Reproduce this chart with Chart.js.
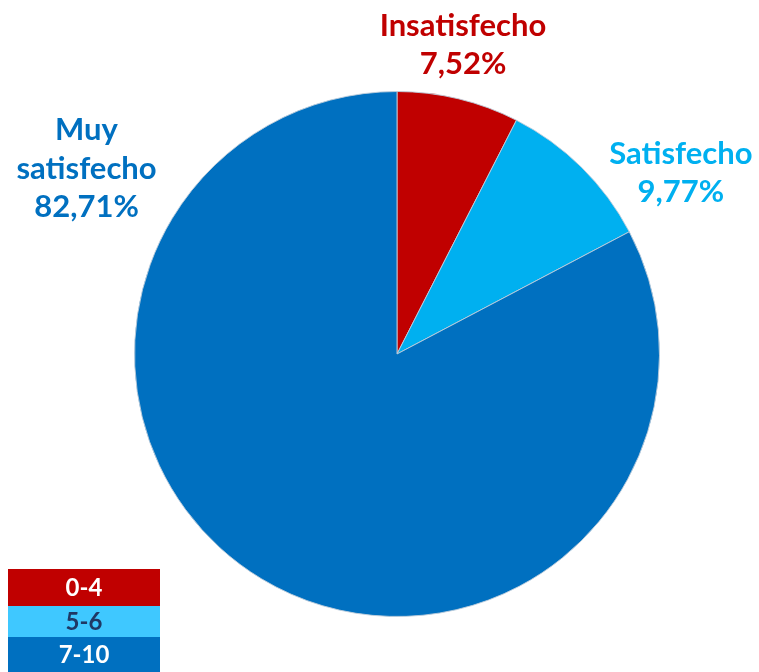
<!DOCTYPE html>
<html>
<head>
<meta charset="utf-8">
<script src="https://cdn.jsdelivr.net/npm/chart.js@4/dist/chart.umd.min.js"></script>
<style>
html,body{margin:0;padding:0;background:#fff;}
#wrap{width:759px;height:672px;position:relative;}
</style>
</head>
<body>
<div id="wrap"><canvas id="c" width="759" height="672"></canvas></div>
<script>
const categories = ["Insatisfecho", "Satisfecho", "Muy satisfecho"];
const values = [7.52, 9.77, 82.71];
const legendLabels = ["0-4", "5-6", "7-10"];
const sliceColors = ["#C00000", "#00B0F0", "#0070C0"];
const legendColors = ["#C00000", "#3FC8FF", "#0070C0"];
const legendTextColors = ["#FFFFFF", "#1F3864", "#FFFFFF"];

function fmt(v){ return v.toFixed(2).replace('.', ',') + '%'; }

function shade(hex, amt){
  const n = parseInt(hex.slice(1),16);
  let r=(n>>16)&255,g=(n>>8)&255,b=n&255;
  const f = c => Math.max(0,Math.min(255,Math.round(amt>0? c+(255-c)*amt : c*(1+amt))));
  return `rgb(${f(r)},${f(g)},${f(b)})`;
}

function bevelFill(ctx){
  const chart = ctx.chart;
  const base = sliceColors[ctx.dataIndex];
  const meta = chart.getDatasetMeta(0);
  const el = meta.data[ctx.dataIndex];
  if(!el || !el.outerRadius) return base;
  const {x,y,outerRadius:r} = el;
  const g = chart.ctx.createRadialGradient(x,y,0,x,y,r);
  g.addColorStop(0, base);
  g.addColorStop(0.9, base);
  g.addColorStop(0.95, shade(base,0.18));
  g.addColorStop(0.975, base);
  g.addColorStop(1, shade(base,-0.25));
  return g;
}

// Label placements (fractions of canvas) for the text annotations
const labelPlacement = [
  {fx:0.610, fy:0.038, lines:["Insatisfecho"]},
  {fx:0.897, fy:0.229, lines:["Satisfecho"]},
  {fx:0.114, fy:0.194, lines:["Muy","satisfecho"]}
];

const labelPlugin = {
  id:'sliceLabels',
  afterDraw(chart){
    const c = chart.ctx;
    c.save();
    c.font = 'bold 31px Lato, "Open Sans", sans-serif';
    c.textAlign = 'center';
    c.textBaseline = 'middle';
    const W = chart.width, H = chart.height;
    values.forEach((v,i)=>{
      const p = labelPlacement[i];
      const lines = p.lines.concat([fmt(v)]);
      c.fillStyle = sliceColors[i];
      lines.forEach((t,k)=>{
        c.fillText(t, p.fx*W, p.fy*H + k*38.5);
      });
    });
    c.restore();
  }
};

const legendPlugin = {
  id:'boxLegend',
  afterDraw(chart){
    const c = chart.ctx;
    c.save();
    const x0 = 8, w = 152, rowH = [37, 31, 35];
    let y = chart.height - rowH.reduce((a,b)=>a+b,0);
    c.font = 'bold 24px Lato, "Open Sans", sans-serif';
    c.textAlign = 'center';
    c.textBaseline = 'middle';
    legendLabels.forEach((t,i)=>{
      c.fillStyle = legendColors[i];
      c.fillRect(x0, y, w, rowH[i]);
      c.fillStyle = legendTextColors[i];
      c.fillText(t, x0 + w/2, y + rowH[i]/2 + 1);
      y += rowH[i];
    });
    c.restore();
  }
};

new Chart(document.getElementById('c'), {
  type:'pie',
  data:{
    labels: categories,
    datasets:[{
      data: values,
      backgroundColor: bevelFill,
      borderColor: 'rgba(190,205,220,0.9)',
      borderWidth: 1
    }]
  },
  options:{
    responsive:false,
    animation:false,
    layout:{padding:{left:134, right:99, top:91, bottom:55}},
    plugins:{legend:{display:false}, tooltip:{enabled:false}}
  },
  plugins:[labelPlugin, legendPlugin]
});
</script>
</body>
</html>
